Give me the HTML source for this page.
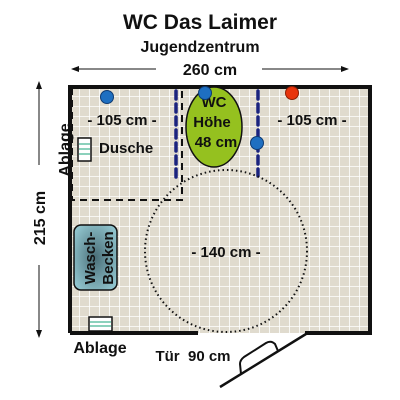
<!DOCTYPE html>
<html><head><meta charset="utf-8"><style>
html,body{margin:0;padding:0;background:#fff}
svg{display:block}
text{font-family:"Liberation Sans",Arial,sans-serif;font-weight:bold;fill:#111}
</style></head><body>
<svg width="400" height="400" viewBox="0 0 400 400">
<defs>
<pattern id="grid" x="70" y="87" width="10" height="10" patternUnits="userSpaceOnUse">
<rect width="10" height="10" fill="#e0dbce"/>
<path d="M10 0V10M0 10H10" stroke="#fff" stroke-width="1.6"/>
</pattern>
<radialGradient id="sink" cx="0.5" cy="0.5" r="0.6"><stop offset="0" stop-color="#4a6e78"/><stop offset="1" stop-color="#8fc3cc"/></radialGradient>
<marker id="ah" markerWidth="8" markerHeight="6" refX="7" refY="3" orient="auto"><path d="M0 0L8 3L0 6z" fill="#111"/></marker>
</defs>
<text x="200" y="29" text-anchor="middle" font-size="21">WC Das Laimer</text>
<text x="200" y="52" text-anchor="middle" font-size="16">Jugendzentrum</text>
<g>
<line x1="156" y1="69" x2="72" y2="69" stroke="#111" stroke-width="1" marker-end="url(#ah)"/>
<line x1="262" y1="69" x2="348" y2="69" stroke="#111" stroke-width="1" marker-end="url(#ah)"/>
<text x="210" y="75" text-anchor="middle" font-size="16">260 cm</text>
</g>
<g>
<line x1="39" y1="165" x2="39" y2="82" stroke="#111" stroke-width="1" marker-end="url(#ah)"/>
<line x1="39" y1="265" x2="39" y2="337" stroke="#111" stroke-width="1" marker-end="url(#ah)"/>
<text transform="translate(45,218) rotate(-90)" text-anchor="middle" font-size="16">215 cm</text>
</g>
<rect x="70" y="87" width="300" height="246" fill="url(#grid)"/>
<path d="M70 333V87H370V333H305" fill="none" stroke="#111" stroke-width="4"/>
<path d="M70 333H198" fill="none" stroke="#111" stroke-width="4"/>
<path d="M72 88V200H182V88" fill="none" stroke="#111" stroke-width="2" stroke-dasharray="7,5"/>
<line x1="176" y1="91" x2="176" y2="177" stroke="#1a237e" stroke-width="3.5" stroke-dasharray="8,5" stroke-linecap="round"/>
<line x1="258" y1="91" x2="258" y2="176" stroke="#1a237e" stroke-width="3.5" stroke-dasharray="8,5" stroke-linecap="round"/>
<circle cx="226" cy="251" r="81" fill="none" stroke="#111" stroke-width="2" stroke-dasharray="1.5,3"/>
<ellipse cx="214" cy="127" rx="28" ry="40" fill="#95c11f" stroke="#111" stroke-width="1.5"/>
<text x="214" y="107" text-anchor="middle" font-size="15">WC</text>
<text x="212" y="127" text-anchor="middle" font-size="15">Höhe</text>
<text x="216" y="147" text-anchor="middle" font-size="15">48 cm</text>
<circle cx="107" cy="97" r="6.5" fill="#1e6fc1" stroke="#0d3a73"/>
<circle cx="205" cy="93" r="6.5" fill="#1e6fc1" stroke="#0d3a73"/>
<circle cx="257" cy="143" r="6.5" fill="#1e6fc1" stroke="#0d3a73"/>
<circle cx="292" cy="93" r="6.5" fill="#e8340c" stroke="#8a1f05"/>
<text x="122" y="125" text-anchor="middle" font-size="15">- 105 cm -</text>
<text x="312" y="125" text-anchor="middle" font-size="15">- 105 cm -</text>
<text x="226" y="257" text-anchor="middle" font-size="15">- 140 cm -</text>
<g>
<rect x="78" y="138" width="13" height="23" fill="#fff" stroke="#111" stroke-width="1.5"/>
<path d="M79 144H90M79 149H90M79 154H90" stroke="#1aa37a" stroke-width="1"/>
</g>
<text x="99" y="153" font-size="15">Dusche</text>
<text transform="translate(70,150) rotate(-90)" text-anchor="middle" font-size="16">Ablage</text>
<g>
<rect x="74" y="225" width="43" height="65" rx="7" fill="url(#sink)" stroke="#111" stroke-width="1.5"/>
<text transform="translate(95,258) rotate(-90)" text-anchor="middle" font-size="15">Wasch-</text>
<text transform="translate(113,258) rotate(-90)" text-anchor="middle" font-size="15">Becken</text>
</g>
<g>
<rect x="89" y="317" width="23" height="14" fill="#fff" stroke="#111" stroke-width="1.5"/>
<path d="M90 322H111M90 326H111" stroke="#1aa37a" stroke-width="1"/>
</g>
<text x="100" y="353" text-anchor="middle" font-size="16">Ablage</text>
<text x="193" y="361" text-anchor="middle" font-size="15">Tür&#160; 90 cm</text>
<g>
<line x1="220" y1="387" x2="306" y2="334" stroke="#111" stroke-width="2.5"/>
<path d="M241 374L240 364Q240 360 244 357L266 343Q271 340 275 344L278 351" fill="none" stroke="#111" stroke-width="2"/>
</g>
</svg>
</body></html>
